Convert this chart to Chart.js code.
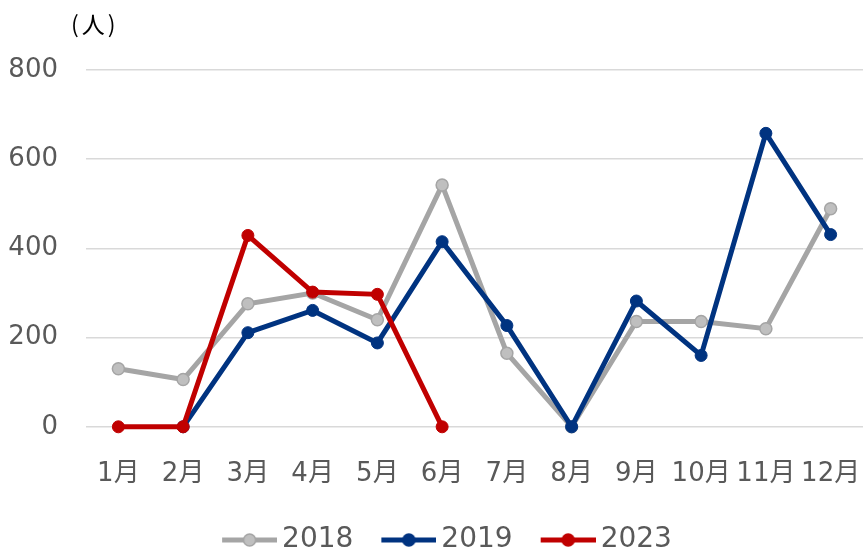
<!DOCTYPE html>
<html>
<head>
<meta charset="utf-8">
<script src="https://cdn.jsdelivr.net/npm/chart.js@4"></script>
<style>
html,body{margin:0;padding:0;background:#fff;}
#wrap{width:863px;height:548px;position:relative;}
</style>
</head>
<body>
<div id="wrap"><canvas id="c" width="863" height="548"></canvas></div>
<script>
const categories = ['1月','2月','3月','4月','5月','6月','7月','8月','9月','10月','11月','12月'];
const series2018 = [130, 106, 276, 300, 240, 542, 165, 0, 236, 236, 220, 489];
const series2019 = [null, 0, 211, 261, 188, 415, 227, 0, 282, 160, 658, 431];
const series2023 = [0, 0, 429, 302, 297, 0, null, null, null, null, null, null];
const seriesNames = ['2018', '2019', '2023'];
const yTicks = [0, 200, 400, 600, 800];

const FONT = '"DejaVu Sans", Verdana, "Noto Sans CJK JP", sans-serif';
const TEXT = '#595959';
const LEG_B = 70;     // legend box width used by Chart.js
const LEG_W = 88;     // legend image width

function legendImg(line, fill, stroke) {
  const c = document.createElement('canvas');
  c.width = LEG_W; c.height = 16;
  const x = c.getContext('2d');
  const x1 = LEG_W - 55, x2 = LEG_W, cx = (x1 + x2) / 2;
  x.strokeStyle = line; x.lineWidth = 5; x.lineCap = 'butt';
  x.beginPath(); x.moveTo(x1, 8); x.lineTo(x2, 8); x.stroke();
  x.beginPath(); x.arc(cx, 8, 6, 0, Math.PI * 2);
  x.fillStyle = fill; x.fill();
  x.lineWidth = 1.5; x.strokeStyle = stroke; x.stroke();
  return c;
}
const legendImgs = [
  legendImg('#A5A5A5', '#BFBFBF', '#A5A5A5'),
  legendImg('#003380', '#003380', '#003380'),
  legendImg('#C00000', '#C00000', '#C00000')
];

const unitPlugin = {
  id: 'unit',
  afterDraw(chart) {
    const ctx = chart.ctx;
    ctx.save();
    ctx.font = '23px "Noto Sans CJK JP", sans-serif';
    try { ctx.letterSpacing = '3px'; } catch (e) {}
    ctx.fillStyle = '#000';
    ctx.textBaseline = 'middle';
    ctx.textAlign = 'left';
    ctx.fillText('(人)', 71, 24);
    ctx.restore();
  }
};

new Chart(document.getElementById('c'), {
  type: 'line',
  data: {
    labels: categories,
    datasets: [
      {
        label: seriesNames[0], data: series2018, order: 3, clip: false,
        borderColor: '#A5A5A5', backgroundColor: '#BFBFBF',
        pointBackgroundColor: '#BFBFBF', pointBorderColor: '#A5A5A5',
        borderWidth: 5, pointRadius: 6, pointBorderWidth: 1.5, tension: 0
      },
      {
        label: seriesNames[1], data: series2019, order: 2, clip: false,
        borderColor: '#003380', backgroundColor: '#003380',
        pointBackgroundColor: '#003380', pointBorderColor: '#003380',
        borderWidth: 5, pointRadius: 6, pointBorderWidth: 1, tension: 0
      },
      {
        label: seriesNames[2], data: series2023, order: 1, clip: false,
        borderColor: '#C00000', backgroundColor: '#C00000',
        pointBackgroundColor: '#C00000', pointBorderColor: '#C00000',
        borderWidth: 5, pointRadius: 6, pointBorderWidth: 1, tension: 0
      }
    ]
  },
  options: {
    responsive: false,
    animation: false,
    devicePixelRatio: 1,
    layout: { autoPadding: false, padding: { top: 70, right: -7, left: 0, bottom: -16 } },
    scales: {
      x: {
        offset: true,
        afterFit(s) { s.paddingLeft = 0; s.paddingRight = 0; },
        grid: { display: false, drawTicks: false },
        border: { display: false },
        ticks: { color: TEXT, font: { family: FONT, size: 26 }, padding: 32, maxRotation: 0, autoSkip: false }
      },
      y: {
        min: 0, max: 800,
        afterFit(s) { s.width = 86; },
        afterBuildTicks(s) { s.ticks = yTicks.map(v => ({ value: v })); },
        grid: { color: '#D9D9D9', lineWidth: 1.5, drawTicks: false },
        border: { display: false },
        ticks: { color: TEXT, font: { family: FONT, size: 26 }, padding: 28 }
      }
    },
    plugins: {
      tooltip: { enabled: false },
      legend: {
        position: 'bottom',
        labels: {
          color: TEXT,
          font: { family: FONT, size: 28 },
          usePointStyle: true,
          pointStyleWidth: LEG_B,
          padding: 4,
          generateLabels(chart) {
            const items = Chart.defaults.plugins.legend.labels.generateLabels(chart);
            items.sort((a, b) => a.datasetIndex - b.datasetIndex);
            items.forEach(it => { it.pointStyle = legendImgs[it.datasetIndex]; });
            return items;
          }
        }
      }
    }
  },
  plugins: [unitPlugin]
});
</script>
</body>
</html>
